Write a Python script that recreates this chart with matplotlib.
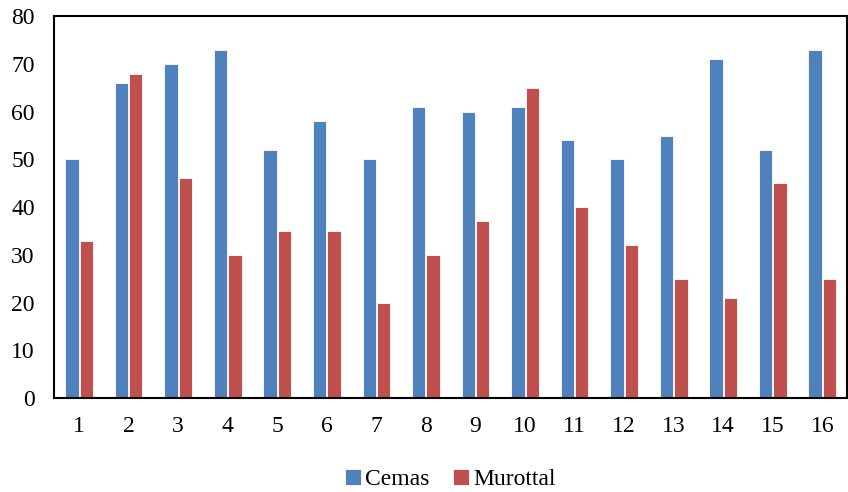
import numpy as np
import matplotlib
matplotlib.use("Agg")
from matplotlib import pyplot as plt

# values
labels = [str(i) for i in range(1, 17)]
cemas = [50, 66, 70, 73, 52, 58, 50, 61, 60, 61, 54, 50, 55, 71, 52, 73]
murottal = [33, 68, 46, 30, 35, 35, 20, 30, 37, 65, 40, 32, 25, 21, 45, 25]

plt.rcParams['font.family'] = ['Liberation Serif', 'DejaVu Serif']

fig = plt.figure(figsize=(8.48, 4.92), dpi=100)
ax = fig.add_axes([0.064, 0.191, 0.935, 0.776])

x = np.arange(len(labels))
w = 0.27
ax.bar(x - w / 2 - 0.01, cemas, w, color='#4F81BD', edgecolor='white', linewidth=0.6, label='Cemas')
ax.bar(x + w / 2 + 0.01, murottal, w, color='#C0504D', edgecolor='white', linewidth=0.6, label='Murottal')

ax.set_xlim(-0.5, len(labels) - 0.5)
ax.set_ylim(0, 80)
ax.set_yticks(range(0, 81, 10))
ax.set_xticks(x)
ax.set_xticklabels(labels)
ax.tick_params(length=0, labelsize=17)
ax.tick_params(axis='y', pad=14)
ax.tick_params(axis='x', pad=13)
for s in ax.spines.values():
    s.set_linewidth(1.5)
    s.set_color('black')

ax.legend(loc='upper center', bbox_to_anchor=(0.5, -0.13), ncol=2, frameon=False,
          fontsize=17, handlelength=0.65, handleheight=0.65, handletextpad=0.2, columnspacing=1.0)

fig.savefig('out.png', dpi=100)
